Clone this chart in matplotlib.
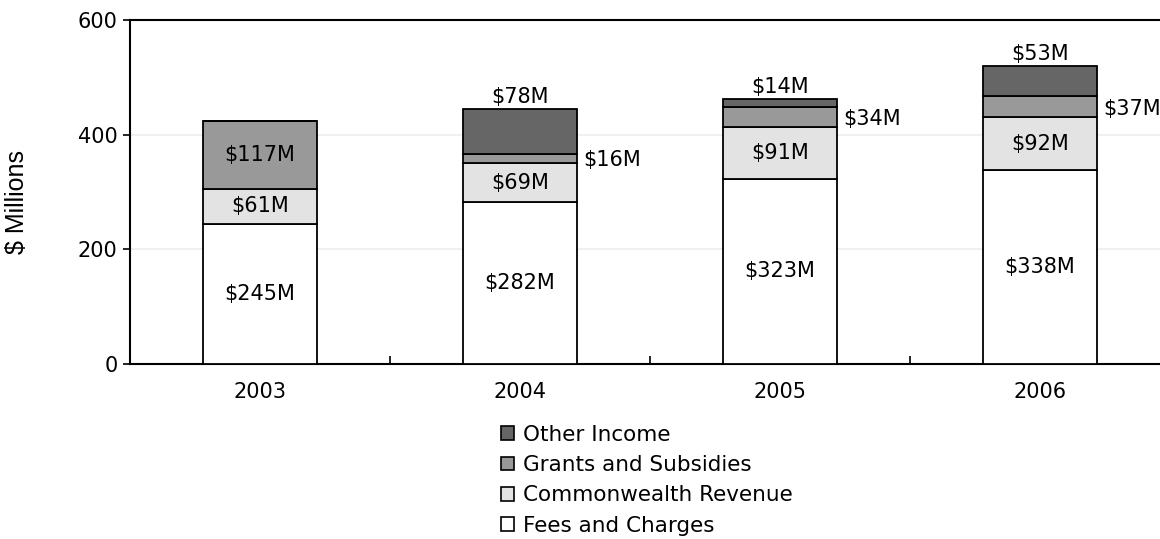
import numpy as np
import matplotlib.pyplot as plt
from matplotlib.patches import Patch

years = ["2003", "2004", "2005", "2006"]
fees = [245, 282, 323, 338]
commonwealth = [61, 69, 91, 92]
grants = [117, 16, 34, 37]
other = [0, 78, 14, 53]

series = [
    ("Fees and Charges", fees, "#ffffff"),
    ("Commonwealth Revenue", commonwealth, "#e3e3e3"),
    ("Grants and Subsidies", grants, "#999999"),
    ("Other Income", other, "#666666"),
]

plt.rcParams['font.family'] = ['DejaVu Sans']
fs = 15

fig = plt.figure(figsize=(11.6, 5.39), dpi=100)
ax = fig.add_axes([130 / 1160, 1 - 364 / 539, 1040 / 1160, 344 / 539])

x = np.arange(len(years))
width = 0.44
bottom = np.zeros(len(years))
for name, vals, color in series:
    vals = np.array(vals, dtype=float)
    ax.bar(x, vals, width, bottom=bottom, color=color, edgecolor="black",
           linewidth=1.3, zorder=3)
    for i, v in enumerate(vals):
        if v == 0:
            continue
        if name == "Other Income":
            ax.text(x[i], bottom[i] + v + 4, f"${int(v)}M", ha="center",
                    va="bottom", fontsize=fs)
        elif v < 50:
            ax.text(x[i] + width / 2 + 0.025, bottom[i] + v / 2 - 3,
                    f"${int(v)}M", ha="left", va="center", fontsize=fs)
        else:
            ax.text(x[i], bottom[i] + v / 2, f"${int(v)}M", ha="center",
                    va="center", fontsize=fs)
    bottom += vals

ax.set_xlim(-0.5, 3.5)
ax.set_ylim(0, 600)
ax.set_yticks([0, 200, 400, 600])
ax.set_xticks(x)
ax.set_xticklabels(years)
ax.set_xticks(np.arange(-0.5, 3.6, 1), minor=True)
ax.tick_params(axis="x", which="major", length=0, pad=13, labelsize=fs)
ax.tick_params(axis="x", which="minor", direction="in", length=6, width=1.2)
ax.tick_params(axis="y", direction="out", length=5, width=1.2, labelsize=fs, pad=4)
ax.grid(axis="y", color="#eeeeee", linewidth=1.2, zorder=0)
for s in ax.spines.values():
    s.set_linewidth(1.5)
ax.set_ylabel("$ Millions", family="Liberation Sans", fontsize=18)
ax.yaxis.set_label_coords(-101 / 1040, 0.47)

handles = [Patch(facecolor=c, edgecolor="black", linewidth=1.2, label=n)
           for n, _, c in series[::-1]]
fig.legend(handles=handles, loc="upper left", bbox_to_anchor=(490 / 1160, 1 - 414 / 539),
           frameon=False, fontsize=15.5, handlelength=0.6, handleheight=0.6,
           handletextpad=0.45, labelspacing=0.48, borderpad=0)

fig.savefig("out.png", dpi=100)
